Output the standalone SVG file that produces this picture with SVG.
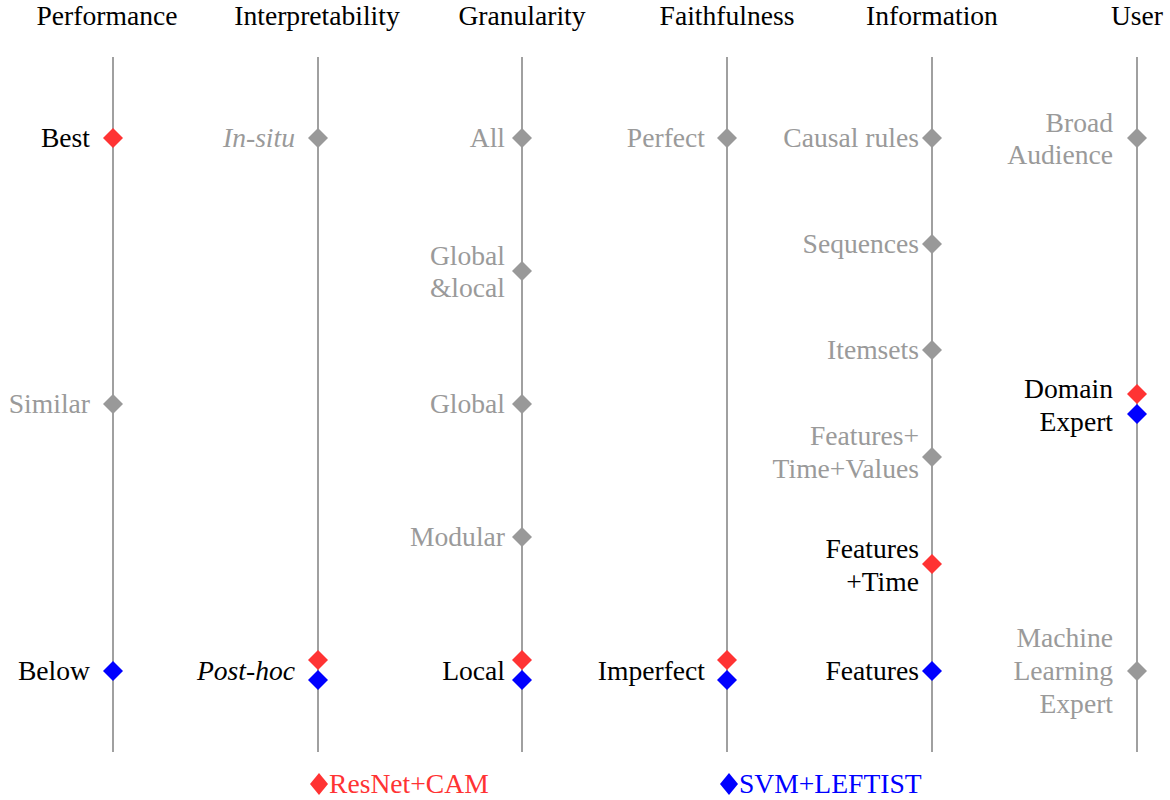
<svg xmlns="http://www.w3.org/2000/svg" width="1170" height="800" viewBox="0 0 1170 800">
  <defs>
    <style>
      text { font-family: "Liberation Serif", "Times New Roman", serif; font-size: 27.6px; }
      .head { fill: #000; text-anchor: middle; }
      .lbl { text-anchor: end; }
      .off { fill: #9a9a9a; }
      .on { fill: #000; }
      .axis { stroke: #a0a0a0; stroke-width: 2; fill: none; }
      .g { fill: #999999; }
      .r { fill: #ff3333; }
      .b { fill: #0000ff; }
      .it { font-style: italic; }
    </style>
    <polygon id="dm" points="0,-10 10,0 0,10 -10,0"/>
  </defs>
  <rect width="1170" height="800" fill="#fff"/>

  <!-- axes -->
  <g id="axes">
    <line class="axis" x1="113" y1="57" x2="113" y2="752"/>
    <line class="axis" x1="318" y1="57" x2="318" y2="752"/>
    <line class="axis" x1="522" y1="57" x2="522" y2="752"/>
    <line class="axis" x1="727" y1="57" x2="727" y2="752"/>
    <line class="axis" x1="932" y1="57" x2="932" y2="752"/>
    <line class="axis" x1="1137" y1="57" x2="1137" y2="752"/>
  </g>

  <!-- column headings -->
  <g id="headings">
    <text class="head" x="107" y="25">Performance</text>
    <text class="head" x="317" y="25">Interpretability</text>
    <text class="head" x="522" y="25">Granularity</text>
    <text class="head" x="727" y="25">Faithfulness</text>
    <text class="head" x="932" y="25">Information</text>
    <text class="head" x="1137" y="25">User</text>
  </g>

  <g id="performance">
    <text class="lbl on" x="90" y="147">Best</text>
    <use href="#dm" class="r" x="113" y="138"/>
    <text class="lbl off" x="90" y="413">Similar</text>
    <use href="#dm" class="g" x="113" y="404"/>
    <text class="lbl on" x="90" y="680">Below</text>
    <use href="#dm" class="b" x="113" y="671"/>
  </g>

  <g id="interpretability">
    <text class="lbl off it" x="295" y="147">In-situ</text>
    <use href="#dm" class="g" x="318" y="138"/>
    <text class="lbl on it" x="295" y="680">Post-hoc</text>
    <use href="#dm" class="r" x="318" y="660"/>
    <use href="#dm" class="b" x="318" y="680"/>
  </g>

  <g id="granularity">
    <text class="lbl off" x="505" y="147">All</text>
    <use href="#dm" class="g" x="522" y="138"/>
    <text class="lbl off" x="505" y="265">Global</text>
    <text class="lbl off" x="505" y="297">&amp;local</text>
    <use href="#dm" class="g" x="522" y="271"/>
    <text class="lbl off" x="505" y="413">Global</text>
    <use href="#dm" class="g" x="522" y="404"/>
    <text class="lbl off" x="505" y="546">Modular</text>
    <use href="#dm" class="g" x="522" y="537"/>
    <text class="lbl on" x="505" y="680">Local</text>
    <use href="#dm" class="r" x="522" y="660"/>
    <use href="#dm" class="b" x="522" y="680"/>
  </g>

  <g id="faithfulness">
    <text class="lbl off" x="705" y="147">Perfect</text>
    <use href="#dm" class="g" x="727" y="138"/>
    <text class="lbl on" x="705" y="680">Imperfect</text>
    <use href="#dm" class="r" x="727" y="660"/>
    <use href="#dm" class="b" x="727" y="680"/>
  </g>

  <g id="information">
    <text class="lbl off" x="919" y="147">Causal rules</text>
    <use href="#dm" class="g" x="932" y="138"/>
    <text class="lbl off" x="919" y="253">Sequences</text>
    <use href="#dm" class="g" x="932" y="244"/>
    <text class="lbl off" x="919" y="359">Itemsets</text>
    <use href="#dm" class="g" x="932" y="350"/>
    <text class="lbl off" x="919" y="445">Features+</text>
    <text class="lbl off" x="919" y="478">Time+Values</text>
    <use href="#dm" class="g" x="932" y="457"/>
    <text class="lbl on" x="919" y="558">Features</text>
    <text class="lbl on" x="919" y="591">+Time</text>
    <use href="#dm" class="r" x="932" y="564"/>
    <text class="lbl on" x="919" y="680">Features</text>
    <use href="#dm" class="b" x="932" y="671"/>
  </g>

  <g id="user">
    <text class="lbl off" x="1113" y="132">Broad</text>
    <text class="lbl off" x="1113" y="164">Audience</text>
    <use href="#dm" class="g" x="1137" y="138"/>
    <text class="lbl on" x="1113" y="398">Domain</text>
    <text class="lbl on" x="1113" y="431">Expert</text>
    <use href="#dm" class="r" x="1137" y="394"/>
    <use href="#dm" class="b" x="1137" y="414"/>
    <text class="lbl off" x="1113" y="647">Machine</text>
    <text class="lbl off" x="1113" y="680">Learning</text>
    <text class="lbl off" x="1113" y="713">Expert</text>
    <use href="#dm" class="g" x="1137" y="671"/>
  </g>

  <!-- legend -->
  <g id="legend">
    <polygon class="r" points="319,773 328,784 319,795 310,784"/>
    <text class="r" x="329" y="793">ResNet+CAM</text>
    <polygon class="b" points="729,773 738,784 729,795 720,784"/>
    <text class="b" x="739" y="793">SVM+LEFTIST</text>
  </g>
</svg>
